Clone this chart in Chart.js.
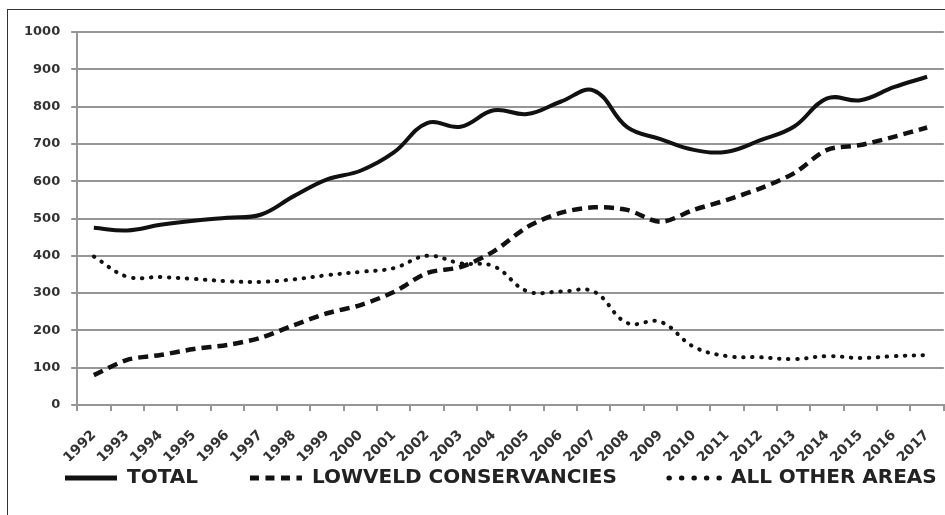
<!DOCTYPE html>
<html>
<head>
<meta charset="utf-8">
<script src="https://cdn.jsdelivr.net/npm/chart.js@4.4.1/dist/chart.umd.min.js"></script>
<style>
  html, body { margin: 0; padding: 0; background: #fff; overflow: hidden; }
  #wrap { position: relative; width: 945px; height: 515px; overflow: hidden; }
  #frame { position: absolute; left: 7px; top: 9px; width: 960px; height: 540px; border: 1.5px solid #333; box-sizing: border-box; }
  canvas { position: absolute; left: 0; top: 0; }
</style>
</head>
<body>
<div id="wrap">
  <div id="frame"></div>
  <canvas id="myChart" width="955" height="515"></canvas>
</div>
<script>
// years on the x axis
const years = ['1992','1993','1994','1995','1996','1997','1998','1999','2000','2001','2002','2003','2004',
  '2005','2006','2007','2008','2009','2010','2011','2012','2013','2014','2015','2016','2017'];

// series
const total = [475, 468, 483, 494, 502, 510, 560, 605, 628, 677, 756, 746, 790, 780, 813, 843,
  745, 713, 684, 679, 710, 746, 822, 817, 852, 880];
const lowveld = [80, 121, 134, 150, 161, 180, 214, 246, 268, 303, 354, 370, 412, 477, 515, 530,
  523, 491, 523, 550, 581, 621, 684, 697, 719, 744];
const otherAreas = [398, 344, 343, 338, 332, 330, 337, 348, 357, 367, 400, 380, 372, 305, 304, 304,
  220, 223, 156, 131, 128, 123, 131, 126, 131, 134];

const yTicks = [0, 100, 200, 300, 400, 500, 600, 700, 800, 900, 1000];

const ctx = document.getElementById('myChart');
const ink = '#111';
const gridGrey = 'rgb(150,150,150)';
const tickFont = { family: 'DejaVu Sans', size: 13, weight: 'bold' };

// legend samples sit in the right 52px of a 97px box:
// dash offset -45 starts each pattern inside its long trailing gap
const legendDash = [
  [52, 200],
  [9, 6.5, 9, 6.5, 9, 6.5, 9, 200],
  [0.5, 12, 0.5, 12, 0.5, 12, 0.5, 12, 0.5, 200]
];
const legendCap = ['butt', 'butt', 'round'];

new Chart(ctx, {
  type: 'line',
  data: {
    labels: years,
    datasets: [{
      label: 'TOTAL',
      data: total,
      borderColor: ink,
      backgroundColor: ink,
      borderWidth: 4,
      tension: 0.4,
      pointRadius: 0
    }, {
      label: 'LOWVELD CONSERVANCIES',
      data: lowveld,
      borderColor: ink,
      backgroundColor: ink,
      borderWidth: 4.5,
      borderDash: [10, 6],
      tension: 0.3,
      pointRadius: 0
    }, {
      label: 'ALL OTHER AREAS',
      data: otherAreas,
      borderColor: ink,
      backgroundColor: ink,
      borderWidth: 4,
      borderDash: [0.5, 8.5],
      borderCapStyle: 'round',
      tension: 0.4,
      pointRadius: 0
    }]
  },
  options: {
    responsive: false,
    animation: false,
    layout: { padding: { left: 13, top: 32, right: 0, bottom: 17 } },
    plugins: {
      tooltip: { enabled: false },
      legend: {
        position: 'bottom',
        align: 'start',
        labels: {
          usePointStyle: true,
          pointStyle: 'line',
          pointStyleWidth: 97,
          boxHeight: 12,
          padding: 7,
          color: '#222',
          font: { family: 'DejaVu Sans', size: 20, weight: 'bold' },
          generateLabels: (chart) => chart.data.datasets.map((ds, i) => ({
            text: ds.label,
            datasetIndex: i,
            hidden: false,
            fillStyle: ink,
            strokeStyle: ink,
            fontColor: '#222',
            lineWidth: 5,
            lineDash: legendDash[i],
            lineDashOffset: -45,
            lineCap: legendCap[i],
            pointStyle: 'line'
          }))
        }
      }
    },
    scales: {
      x: {
        offset: true,
        afterFit: (scale) => { scale.height = 56; },
        grid: { display: true, drawOnChartArea: false, drawTicks: true, tickLength: 6, offset: true, color: gridGrey, lineWidth: 2 },
        border: { color: gridGrey, width: 2 },
        ticks: { color: '#333', font: { family: 'DejaVu Sans', size: 14, weight: 'bold' }, minRotation: 45, maxRotation: 45, autoSkip: false, padding: 16 }
      },
      y: {
        min: 0,
        max: 1000,
        afterBuildTicks: (axis) => { axis.ticks = yTicks.map(v => ({ value: v })); },
        grid: { color: gridGrey, lineWidth: 2, tickLength: 6 },
        border: { color: gridGrey, width: 2 },
        ticks: { color: '#333', font: tickFont, padding: 11, callback: (v) => String(v) }
      }
    }
  }
});
</script>
</body>
</html>
